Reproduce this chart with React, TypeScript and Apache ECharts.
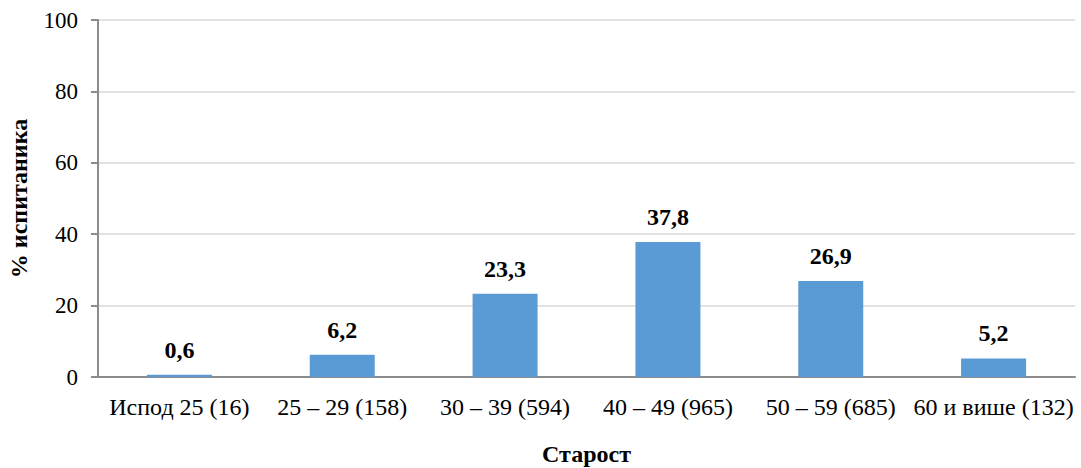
import React, { useEffect, useRef } from "react";
import * as echarts from "echarts";

const categories = [
  "Испод 25 (16)",
  "25 – 29 (158)",
  "30 – 39 (594)",
  "40 – 49 (965)",
  "50 – 59 (685)",
  "60 и више (132)",
];
const values = [0.6, 6.2, 23.3, 37.8, 26.9, 5.2];
const yTitle = "% испитаника";
const xTitle = "Старост";

const FONT = "Liberation Serif";

export default function App() {
  const ref = useRef<HTMLDivElement>(null);
  useEffect(() => {
    document.body.style.margin = "0";
    if (!ref.current) return;
    const chart = echarts.init(ref.current, undefined, { renderer: "svg" });
    chart.setOption({
      animation: false,
      backgroundColor: "#ffffff",
      grid: {
        left: 98,
        right: 6,
        top: 20,
        bottom: 91,
        containLabel: false,
        outerBoundsMode: "none",
      },
      xAxis: {
        type: "category",
        data: categories,
        name: xTitle,
        nameLocation: "middle",
        nameGap: 65,
        nameTextStyle: { fontFamily: FONT, fontSize: 24, fontWeight: "bold", color: "#000" },
        axisLine: { show: true, lineStyle: { color: "#8c8c8c", width: 2 } },
        axisTick: { show: false },
        axisLabel: { fontFamily: FONT, fontSize: 24, color: "#000", margin: 18, interval: 0 },
      },
      yAxis: {
        type: "value",
        min: 0,
        max: 100,
        interval: 20,
        name: yTitle,
        nameLocation: "middle",
        nameGap: 67,
        nameRotate: 90,
        nameTextStyle: { fontFamily: FONT, fontSize: 24, fontWeight: "bold", color: "#000" },
        axisLine: { show: true, lineStyle: { color: "#8c8c8c", width: 2 } },
        axisTick: { show: true, length: 7, lineStyle: { color: "#8c8c8c", width: 2 } },
        axisLabel: { fontFamily: FONT, fontSize: 23, color: "#000", margin: 20 },
        splitLine: { show: true, lineStyle: { color: "#d9d9d9", width: 1.5 } },
      },
      series: [
        {
          type: "bar",
          data: values,
          barWidth: 65,
          itemStyle: { color: "#5B9BD5" },
          label: {
            show: true,
            position: "top",
            distance: 13,
            fontFamily: FONT,
            fontSize: 24,
            fontWeight: "bold",
            color: "#000",
            formatter: (p: any) => String(p.value).replace(".", ","),
          },
        },
      ],
    });
    return () => chart.dispose();
  }, []);
  return <div ref={ref} style={{ width: 1081, height: 468, background: "#fff" }} />;
}
